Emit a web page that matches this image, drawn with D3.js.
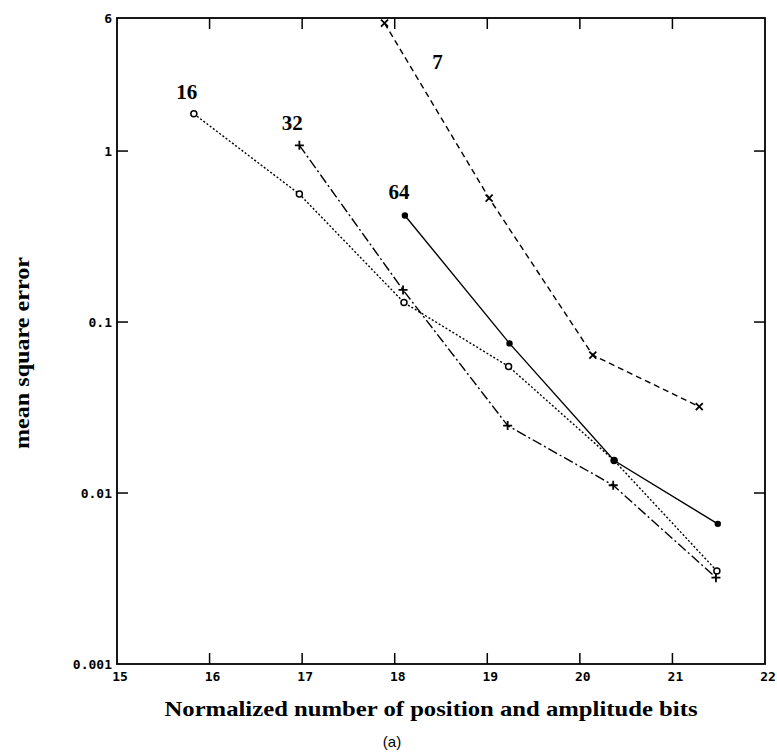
<!DOCTYPE html>
<html>
<head>
<meta charset="utf-8">
<script src="https://cdn.jsdelivr.net/npm/d3@7"></script>
<style>
  body { margin: 0; background: #fff; }
</style>
</head>
<body>
<div id="chart"></div>
<script>
// values (x = normalized bits, y = mean square error)
var bits16 = [15.83, 16.97, 18.10, 19.23, 20.37, 21.48];
var mse16  = [1.65, 0.56, 0.13, 0.055, 0.0155, 0.0035];
var bits32 = [16.97, 18.09, 19.22, 20.36, 21.47];
var mse32  = [1.08, 0.154, 0.0248, 0.0111, 0.0032];
var bits64 = [18.11, 19.24, 20.37, 21.49];
var mse64  = [0.42, 0.075, 0.0155, 0.0066];
var bits7  = [17.89, 19.02, 20.14, 21.29];
var mse7   = [5.6, 0.53, 0.064, 0.032];

var xTicks = [15, 16, 17, 18, 19, 20, 21, 22];
var yTicks = [6, 1, 0.1, 0.01, 0.001];
var yTickLabels = ["6", "1", "0.1", "0.01", "0.001"];

var width = 777, height = 756;
var margin = {top: 18, right: 12, bottom: 92, left: 117};

var svg = d3.select("#chart")
  .append("svg")
    .attr("width", width)
    .attr("height", height);

var x = d3.scaleLinear()
  .domain([15, 22])
  .range([margin.left, width - margin.right]);

var y = d3.scaleLog()
  .domain([0.001, 6])
  .range([height - margin.bottom, margin.top]);

var x0 = x.range()[0], x1 = x.range()[1];
var y0 = y.range()[0], y1 = y.range()[1];
var tickLen = 11;

// frame
svg.append("rect")
  .attr("x", x0).attr("y", y1)
  .attr("width", x1 - x0).attr("height", y0 - y1)
  .attr("fill", "none").attr("stroke", "#000").attr("stroke-width", 1.8);

// x ticks (inward, bottom and top) + labels
var inner = xTicks.slice(1, -1);
svg.append("g").selectAll("line.xb")
  .data(inner).enter().append("line")
    .attr("x1", function(d) { return x(d); }).attr("x2", function(d) { return x(d); })
    .attr("y1", y0).attr("y2", y0 - tickLen)
    .attr("stroke", "#000").attr("stroke-width", 1.5);
svg.append("g").selectAll("line.xt")
  .data(inner).enter().append("line")
    .attr("x1", function(d) { return x(d); }).attr("x2", function(d) { return x(d); })
    .attr("y1", y1).attr("y2", y1 + tickLen)
    .attr("stroke", "#000").attr("stroke-width", 1.5);
svg.append("g").selectAll("text")
  .data(xTicks).enter().append("text")
    .attr("x", function(d) { return x(d) + 3; })
    .attr("y", y0 + 17)
    .attr("text-anchor", "middle")
    .style("font-family", "DejaVu Sans Mono")
    .style("font-weight", "bold")
    .style("font-size", "13px")
    .text(function(d) { return d; });

// y ticks (inward, left and right) + labels
var innerY = yTicks.slice(1, -1);
svg.append("g").selectAll("line.yl")
  .data(innerY).enter().append("line")
    .attr("x1", x0).attr("x2", x0 + tickLen)
    .attr("y1", function(d) { return y(d); }).attr("y2", function(d) { return y(d); })
    .attr("stroke", "#000").attr("stroke-width", 1.5);
svg.append("g").selectAll("line.yr")
  .data(innerY).enter().append("line")
    .attr("x1", x1).attr("x2", x1 - tickLen)
    .attr("y1", function(d) { return y(d); }).attr("y2", function(d) { return y(d); })
    .attr("stroke", "#000").attr("stroke-width", 1.5);
svg.append("g").selectAll("text")
  .data(yTicks).enter().append("text")
    .attr("x", x0 - 5)
    .attr("y", function(d) { return y(d); })
    .attr("dy", "0.35em")
    .attr("text-anchor", "end")
    .style("font-family", "DejaVu Sans Mono")
    .style("font-weight", "bold")
    .style("font-size", "13px")
    .text(function(d, i) { return yTickLabels[i]; });

// axis titles
svg.append("text")
  .attr("x", 431).attr("y", 716)
  .attr("text-anchor", "middle")
  .attr("textLength", 533).attr("lengthAdjust", "spacingAndGlyphs")
  .style("font-family", "Liberation Serif")
  .style("font-weight", "bold")
  .style("font-size", "22px")
  .text("Normalized number of position and amplitude bits");

svg.append("text")
  .attr("transform", "translate(29,353) rotate(-90)")
  .attr("text-anchor", "middle")
  .attr("textLength", 192).attr("lengthAdjust", "spacingAndGlyphs")
  .style("font-family", "Liberation Serif")
  .style("font-weight", "bold")
  .style("font-size", "20px")
  .text("mean square error");

svg.append("text")
  .attr("x", 392).attr("y", 747)
  .attr("text-anchor", "middle")
  .style("font-family", "Liberation Sans")
  .style("font-size", "15px")
  .text("(a)");

// series
var series = [
  {name: "16", xs: bits16, ys: mse16, dash: "2,2", marker: "circle", dx: -7, dy: -15},
  {name: "32", xs: bits32, ys: mse32, dash: "10,3,2,3", marker: "plus", dx: -7, dy: -15},
  {name: "64", xs: bits64, ys: mse64, dash: null, marker: "dot", dx: -6, dy: -16},
  {name: "7",  xs: bits7,  ys: mse7,  dash: "6,4", marker: "cross", dx: 53, dy: 46}
];

var line = d3.line()
  .x(function(d) { return x(d[0]); })
  .y(function(d) { return y(d[1]); });

series.forEach(function(s) {
  var pts = s.xs.map(function(v, i) { return [v, s.ys[i]]; });
  var g = svg.append("g");

  g.append("path")
    .datum(pts)
    .attr("d", line)
    .attr("fill", "none")
    .attr("stroke", "#000")
    .attr("stroke-width", 1.4)
    .attr("stroke-dasharray", s.dash);

  var m = g.selectAll("g.m")
    .data(pts).enter().append("g")
      .attr("transform", function(d) { return "translate(" + x(d[0]) + "," + y(d[1]) + ")"; });

  if (s.marker === "circle") {
    m.append("circle").attr("r", 3).attr("fill", "#fff").attr("stroke", "#000").attr("stroke-width", 1.5);
  } else if (s.marker === "dot") {
    m.append("circle").attr("r", 3.2).attr("fill", "#000");
  } else if (s.marker === "plus") {
    m.append("path").attr("d", "M-4.5,0H4.5M0,-4.5V4.5").attr("stroke", "#000").attr("stroke-width", 1.8);
  } else {
    m.append("path").attr("d", "M-3.5,-3.5L3.5,3.5M-3.5,3.5L3.5,-3.5").attr("stroke", "#000").attr("stroke-width", 1.8);
  }

  g.append("text")
    .attr("x", x(pts[0][0]) + s.dx)
    .attr("y", y(pts[0][1]) + s.dy)
    .attr("text-anchor", "middle")
    .style("font-family", "Liberation Serif")
    .style("font-weight", "bold")
    .style("font-size", "21px")
    .text(s.name);
});
</script>
</body>
</html>
